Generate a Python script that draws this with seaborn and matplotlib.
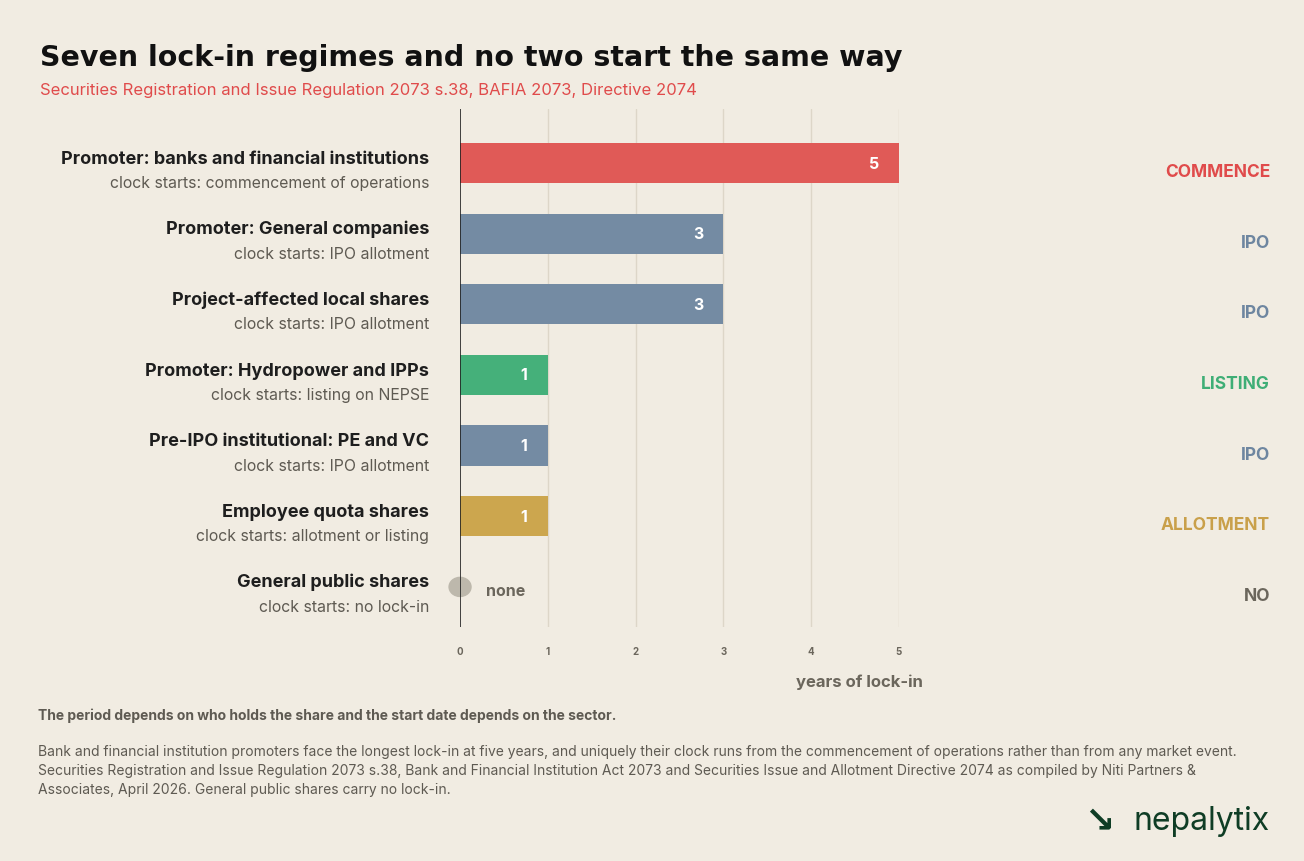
import matplotlib
matplotlib.use("Agg")
import matplotlib.pyplot as plt
import matplotlib.transforms as mtrans
import seaborn as sns
import pandas as pd
from matplotlib.patches import Ellipse

categories = ["Promoter: banks and financial institutions", "Promoter: General companies",
              "Project-affected local shares", "Promoter: Hydropower and IPPs",
              "Pre-IPO institutional: PE and VC", "Employee quota shares", "General public shares"]
subtitles = ["clock starts: commencement of operations", "clock starts: IPO allotment",
             "clock starts: IPO allotment", "clock starts: listing on NEPSE",
             "clock starts: IPO allotment", "clock starts: allotment or listing",
             "clock starts: no lock-in"]
years = [5, 3, 3, 1, 1, 1, 0]
starts = ["COMMENCE", "IPO", "IPO", "LISTING", "IPO", "ALLOTMENT", "NO"]
colors = ["#E05A57", "#748BA3", "#748BA3", "#45B07A", "#748BA3", "#CCA64E", "#BDB8AC"]
start_colors = ["#E04B4B", "#6E86A0", "#6E86A0", "#3FAE76", "#6E86A0", "#C9A04A", "#6B665C"]
ticks = [0, 1, 2, 3, 4, 5]

BG = "#F1ECE2"
sns.set_theme(style="white")
plt.rcParams["font.family"] = ["Inter", "DejaVu Sans"]

fig = plt.figure(figsize=(13.04, 8.62), dpi=100, facecolor=BG)
ax = fig.add_axes([0.3528, 0.2715, 0.3366, 0.6009], facecolor=BG)

df = pd.DataFrame({"cat": categories, "years": years})
sns.barplot(data=df, x="years", y="cat", hue="cat", palette=colors, legend=False,
            width=0.57, ax=ax, saturation=1, linewidth=0)
ax.set_xlim(0, 5)
ax.set_ylim(6.567, -0.765)
for s in ax.spines.values():
    s.set_visible(False)
ax.set_xticks(ticks)
ax.set_xticklabels([str(t) for t in ticks], fontsize=7, color="#6B665C", fontweight="bold")
ax.tick_params(axis="x", length=0, pad=14)
ax.set_yticks([])
ax.set_ylabel("")
ax.set_xlabel("years of lock-in", fontsize=12, color="#6B665C", fontweight="bold")
ax.xaxis.set_label_coords(0.91, -0.09)
for t in ticks[1:]:
    ax.axvline(t, color="#DDD6C8", lw=1, zorder=0)
ax.axvline(0, color="#222222", lw=1.2, zorder=3)

rtrans = mtrans.blended_transform_factory(fig.transFigure, ax.transData)
for i, (v, c) in enumerate(zip(years, categories)):
    if v > 0:
        ax.text(v - 0.28, i, str(v), ha="center", va="center", color="white",
                fontsize=11.5, fontweight="bold")
    else:
        ax.add_patch(Ellipse((0, i), 0.25, 0.27, color="#BDB8AC", zorder=2, clip_on=False))
        ax.text(0.3, i + 0.05, "none", ha="left", va="center", color="#6B665C",
                fontsize=11.5, fontweight="bold")
    ax.text(-0.35, i + 0.05, c, ha="right", va="bottom", fontsize=13, fontweight="bold",
            color="#1E1E1E")
    ax.text(-0.35, i + 0.17, subtitles[i], ha="right", va="top", fontsize=11.4, color="#5E5A52")
    fig.text(1270 / 1304, i + 0.12, starts[i], ha="right", va="center", fontsize=12.5,
             fontweight="bold", color=start_colors[i], transform=rtrans)

fig.text(40 / 1304, 1 - 58 / 862, "Seven lock-in regimes and no two start the same way",
         fontsize=20.5, fontweight="bold", color="#111111", va="center",
         family=["DejaVu Sans"])
fig.text(40 / 1304, 1 - 91 / 862,
         "Securities Registration and Issue Regulation 2073 s.38, BAFIA 2073, Directive 2074",
         fontsize=12, color="#E04B4B", va="center")
fig.text(38 / 1304, 1 - 716 / 862,
         "The period depends on who holds the share and the start date depends on the sector.",
         fontsize=10, fontweight="bold", color="#5E5A52", va="center")
foot = ("Bank and financial institution promoters face the longest lock-in at five years, and uniquely their clock runs from the commencement of operations rather than from any market event.\n"
        "Securities Registration and Issue Regulation 2073 s.38, Bank and Financial Institution Act 2073 and Securities Issue and Allotment Directive 2074 as compiled by Niti Partners &\n"
        "Associates, April 2026. General public shares carry no lock-in.")
fig.text(38 / 1304, 1 - 745 / 862, foot, fontsize=10, color="#5E5A52", va="top", linespacing=1.45)
fig.text(1270 / 1304, 1 - 822 / 862, "nepalytix", ha="right", va="center", fontsize=23,
         color="#0F3D25")
fig.text(1084 / 1304, 1 - 822 / 862, "\u2198", ha="left", va="center", fontsize=26,
         color="#0F3D25", fontweight="bold", family=["DejaVu Sans"])

fig.savefig("out.png", dpi=100, facecolor=BG)
